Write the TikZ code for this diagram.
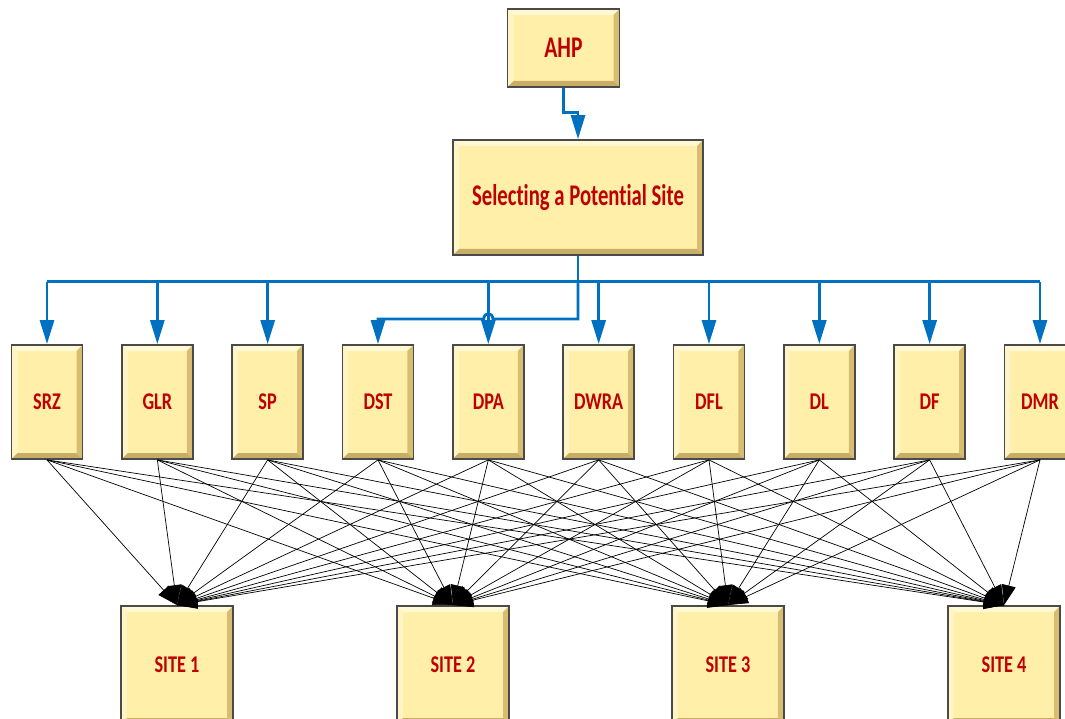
\documentclass[tikz,border=0pt]{standalone}
\usepackage{fontspec}
\setmainfont{Carlito}[Ligatures=CommonOff]
\usetikzlibrary{arrows.meta,calc}

\definecolor{face}{HTML}{FFEFA8}
\definecolor{bevlight}{HTML}{FFF8D4}
\definecolor{bevside}{HTML}{FFF4C4}
\definecolor{bevdark}{HTML}{D8BD70}
\definecolor{bevbottom}{HTML}{C8AD66}
\definecolor{edge}{HTML}{4A4A4A}
\definecolor{labelred}{HTML}{C00000}
\definecolor{flowblue}{HTML}{0070C0}

\newcommand{\narrow}[2][0.72]{\scalebox{#1}[1]{#2}}

\tikzset{
  bevelbox/.style={
    draw=edge, line width=1.8pt, fill=face, inner sep=0pt,
    font=\bfseries, text=labelred,
    path picture={
      \def\d{6pt}
      \coordinate (pnw) at (path picture bounding box.north west);
      \coordinate (pne) at (path picture bounding box.north east);
      \coordinate (psw) at (path picture bounding box.south west);
      \coordinate (pse) at (path picture bounding box.south east);
      \fill[bevlight] (pnw) -- (pne) -- ([xshift=-\d,yshift=-\d]pne) -- ([xshift=\d,yshift=-\d]pnw) -- cycle;
      \fill[bevside] (pnw) -- (psw) -- ([xshift=\d,yshift=\d]psw) -- ([xshift=\d,yshift=-\d]pnw) -- cycle;
      \fill[bevdark] (pne) -- (pse) -- ([xshift=-\d,yshift=\d]pse) -- ([xshift=-\d,yshift=-\d]pne) -- cycle;
      \fill[bevbottom] (psw) -- (pse) -- ([xshift=-\d,yshift=\d]pse) -- ([xshift=\d,yshift=\d]psw) -- cycle;
    }},
  topbox/.style={bevelbox, font=\bfseries\fontsize{30}{32}\selectfont},
  critbox/.style={bevelbox, minimum width=71pt, minimum height=114pt,
    font=\bfseries\fontsize{24}{26}\selectfont},
  sitebox/.style={bevelbox, minimum width=112pt, minimum height=118pt,
    font=\bfseries\fontsize{24}{26}\selectfont},
  flow/.style={draw=flowblue, line width=2.8pt,
    -{Triangle[length=24pt,width=14pt]}},
  bus/.style={draw=flowblue, line width=2.8pt},
  link/.style={draw=black, line width=0.7pt,
    -{Triangle[length=20pt,width=14pt]}}
}

\begin{document}
\begin{tikzpicture}[x=1pt,y=-1pt]
  \useasboundingbox (0,0) rectangle (1065,719);

  % top of the hierarchy
  \node[topbox, minimum width=112pt, minimum height=78pt] (ahp) at (563.5,48) {\narrow{AHP}};
  \node[topbox, minimum width=250pt, minimum height=115pt] (goal) at (578,197.5) {\narrow[0.69]{Selecting a Potential Site}};

  % criteria
  \foreach \lab [count=\i] in {SRZ,GLR,SP,DST,DPA,DWRA,DFL,DL,DF,DMR} {
    \node[critbox] (c\i) at ({47+110.33*(\i-1)},402) {\narrow[0.76]{\lab}};
  }

  % alternatives
  \foreach \xx [count=\j] in {177,453,728,1004} {
    \node[sitebox] (s\j) at (\xx,665) {\narrow[0.76]{SITE \j}};
  }

  % AHP feeds the goal
  \coordinate (a1) at ($(ahp.south)+(0,25)$);
  \draw[flow] (ahp.south) -- (a1) -- (a1 -| goal.north) -- (goal.north);

  % distribution bus under the goal
  \coordinate (busmid) at ($(goal.south)+(0,26)$);
  \coordinate (busL) at (busmid -| c1.north);
  \coordinate (busR) at (busmid -| c10.north);
  \draw[bus] (goal.south) -- (busmid);
  \draw[bus] (busL) -- (busR);
  \foreach \i in {1,2,3,5,6,7,8,9,10} {
    \draw[flow] (busmid -| c\i.north) -- (c\i.north);
  }

  % separate feed to DST, hopping over the DPA line
  \coordinate (f1) at ($(goal.south)+(0,63)$);
  \coordinate (hopR) at ($(f1 -| c5.north)+(4.5,0)$);
  \coordinate (hopL) at ($(f1 -| c5.north)+(-4.5,0)$);
  \draw[flow] (busmid) -- (f1) -- (hopR)
    .. controls ($(hopR)+(0,-7)$) and ($(hopL)+(0,-7)$) .. (hopL)
    -- (f1 -| c4.north) -- (c4.north);

  % every criterion linked to every site
  \foreach \i in {1,...,10} {
    \foreach \j in {1,...,4} {
      \draw[link] (c\i.south) -- (s\j.north);
    }
  }
\end{tikzpicture}
\end{document}
